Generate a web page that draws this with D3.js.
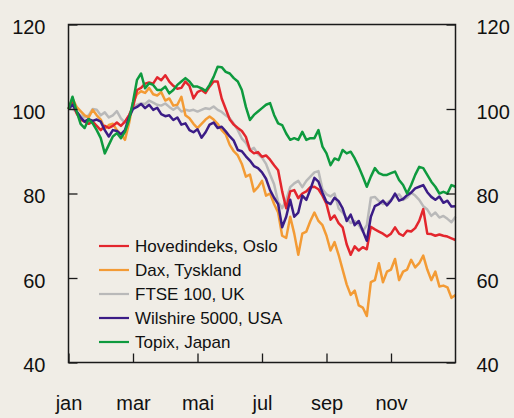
<!DOCTYPE html>
<html><head><meta charset="utf-8">
<script src="https://cdn.jsdelivr.net/npm/d3@7"></script>
<style>
body{margin:0;background:#f0ede6;}
svg{display:block;font-family:"Liberation Sans",Arial,sans-serif;}
</style>
</head><body>
<svg id="chart" width="514" height="418"></svg>
<script>
// ---- data ----
const monthLabels = ["jan", "mar", "mai", "jul", "sep", "nov"];
const monthTicks = [0, 2, 4, 6, 8, 10];
const yTicks = [40, 60, 80, 100, 120];
const seriesNames = ["Hovedindeks, Oslo", "Dax, Tyskland", "FTSE 100, UK", "Wilshire 5000, USA", "Topix, Japan"];
const seriesColors = ["#e3262d", "#f39b35", "#b9b9b9", "#3b1c86", "#0e9a3e"];
const stepMonths = 0.125; // sample spacing (months)

const hovedindeks = [
  100, 101.5, 99, 97.5, 97, 96.5, 97, 96, 95, 96, 95.5, 96, 96.8, 96, 97, 98.5,
  100.5, 104.5, 105, 106, 106.3, 106, 107.5, 106.8, 108, 106.5, 105.5, 104.8, 105, 106.5, 105.5, 102.5,
  104, 104.5, 103.8, 105.3, 106.5, 106.5, 102.5, 100, 97.5, 96.3, 95.5, 94.8, 93.4, 90.3, 89.5, 89.8,
  88.7, 89, 88, 86.7, 85.5, 80.5, 76.5, 80.5, 80.8, 78.9, 80, 80.5, 81.5, 81.6, 81, 79.5,
  77.5, 73.8, 74.8, 73, 72, 68, 65.5, 67.5, 66.5, 67.3, 66.8, 72.1, 71.5, 71, 70.5, 69.8,
  70.5, 72, 70.5, 70, 71.2, 71, 71.8, 73.5, 76.3, 70.5, 70.4, 70, 70.3, 70, 69.8, 69.4, 69
];
const dax = [
  100, 102.5, 100.5, 99.5, 98.5, 98, 99.8, 98.5, 97.5, 95.3, 96.2, 96.5, 95, 94, 92.7, 96.5,
  101.5, 103.5, 104.2, 103.8, 105, 103.5, 103.2, 104, 102, 102.5, 100.8, 101, 102.9, 98.5, 97.8, 96.5,
  95.5, 96.5, 97.5, 98.2, 97.5, 96.5, 95, 94, 91.5, 90, 89, 87, 84, 84.5, 80.5, 81.5,
  83, 79.5, 80, 77.5, 75.5, 70, 69.5, 74.5, 70.5, 65.5, 70.5, 71, 73.5, 75.5, 73.5, 72.5,
  70, 66.5, 68.5, 65.5, 62, 58.5, 56, 57, 53.5, 53, 51, 59, 59.5, 63.5, 59, 61.5,
  62, 64.5, 59.5, 61.5, 62, 64.3, 62.5, 63.5, 65.3, 62, 59.5, 61.5, 58, 58.2, 57.8, 55.3, 56
];
const ftse = [
  100, 100, 99.3, 98.5, 98, 98.5, 100, 99.8, 98.5, 99.2, 98, 98.5, 99.5, 97.8, 96.8, 98.5,
  100.3, 101, 101.3, 101.2, 102, 101.5, 101, 100.8, 101.3, 100.5, 99.8, 100.5, 99.4, 99.8, 99.6, 99.8,
  99.4, 99.8, 100.2, 100, 100.6, 99.8, 99.3, 98.5, 97.8, 96.5, 95, 93, 92, 90.3, 90.8, 89.3,
  88.5, 87, 84.5, 82.2, 78, 76.5, 78.5, 81.5, 82.4, 83, 81.5, 83, 84, 85, 85.3, 81,
  79.8, 79.3, 80, 76.5, 75.5, 74.2, 73, 73.5, 72.5, 71, 72.5, 79, 79.2, 78.2, 77.5, 77.8,
  78.5, 79.4, 79.8, 78.5, 79, 80.2, 79.5, 78.5, 77, 76.2, 74.7, 75.5, 74.3, 74.7, 74, 73.2, 74.5
];
const wilshire = [
  100, 101, 99.5, 98, 97, 97.6, 97.2, 97.5, 97, 95, 93.5, 95, 94.8, 94, 95, 98,
  100, 100.5, 101.2, 100.2, 101, 99.8, 100.3, 98.8, 98.3, 98.5, 97.4, 98, 96.3, 96.6, 95, 94.5,
  95.2, 93.2, 94.5, 96.3, 96.8, 95.5, 95.8, 94.7, 93.5, 92.5, 90.3, 90, 88.8, 87.8, 86.5, 86,
  85, 83.5, 80.8, 79, 77.5, 72, 74.5, 78.5, 74.5, 75.5, 79.5, 78.5, 81, 83.7, 82.8, 80.2,
  78, 77.5, 79, 78.2, 76.5, 73.5, 75, 72.5, 73.5, 71.2, 68.8, 74.5, 77, 77.5, 78.3, 77.2,
  78.3, 80, 78.3, 78.7, 79.6, 80.2, 81.2, 81.6, 82, 80.3, 79.2, 78.5, 79.3, 77.8, 78.3, 76.9, 77
];
const topix = [
  100, 102.9, 99.5, 96.5, 95.5, 97.6, 96.6, 95, 93.1, 89.5, 91.5, 93.5, 94.3, 93.1, 94.6, 97.4,
  101.7, 106.9, 108.4, 104.9, 106.1, 105.7, 104.5, 104.5, 105.3, 103.7, 104.5, 105.7, 106.5, 107.3, 106.5, 105.3,
  105.3, 104.9, 104.3, 105.7, 107.6, 110, 109.9, 108.8, 108.4, 107.3, 106.5, 104.5, 100.5, 97.4, 98.6, 99.4,
  100.2, 101, 101.4, 98.6, 96.6, 96.2, 94.2, 92.7, 93.1, 92.7, 94.6, 92.7, 93.1, 93.1, 95, 91.1,
  89.5, 86.7, 88.3, 87.9, 90.3, 89.5, 89.9, 88.3, 86.3, 84, 81.6, 84, 86, 84.8, 84.4, 84.4,
  84.8, 85.2, 83.2, 82, 80, 82, 84.4, 86.3, 86, 84.4, 82.8, 81.6, 80, 80.4, 80, 82, 81.6
];
const seriesValues = [hovedindeks, dax, ftse, wilshire, topix];
const drawOrder = [2, 1, 0, 3, 4];

// ---- layout ----
const L = 68.5, R = 455.5, T = 24.5, B = 362.5;
const svg = d3.select("#chart");
const x = d3.scaleLinear().domain([0, 12]).range([L, R]);
const y = d3.scaleLinear().domain([40, 120]).range([B, T]);

svg.append("rect").attr("width", 514).attr("height", 418).attr("fill", "#f0ede6");

// lines
const line = d3.line().x((d, i) => x(i * stepMonths)).y(d => y(d));
const g = svg.append("g");
drawOrder.forEach(k => {
  g.append("path").datum(seriesValues[k])
    .attr("d", line).attr("fill", "none")
    .attr("stroke", seriesColors[k]).attr("stroke-width", 2.5)
    .attr("stroke-linejoin", "round");
});

// axes
const axisColor = "#1a1a1a";
const styleAxis = sel => {
  sel.select(".domain").remove();
  sel.selectAll(".tick line").attr("stroke", axisColor).attr("stroke-width", 1.3);
  sel.selectAll(".tick text").attr("fill", "#111").style("font-size", "20px")
     .style("font-family", '"Liberation Sans", Arial, sans-serif');
};
svg.append("g").attr("transform", `translate(${L},0)`)
  .call(d3.axisLeft(y).tickValues(yTicks).tickSize(-9).tickPadding(23))
  .call(styleAxis).selectAll(".tick text").attr("dy", "0.45em");
svg.append("g").attr("transform", `translate(${R},0)`)
  .call(d3.axisRight(y).tickValues(yTicks).tickSize(-9).tickPadding(21))
  .call(styleAxis).selectAll(".tick text").attr("dy", "0.45em");
svg.append("g").attr("transform", `translate(0,${B})`)
  .call(d3.axisBottom(x).tickValues(monthTicks).tickSize(-9).tickFormat((d, i) => monthLabels[i]))
  .call(styleAxis).selectAll(".tick text").attr("y", 47.5).attr("dy", null);

// frame
svg.append("rect").attr("x", L).attr("y", T).attr("width", R - L).attr("height", B - T)
  .attr("fill", "none").attr("stroke", axisColor).attr("stroke-width", 1.5);

// legend
const lg = svg.append("g");
seriesNames.forEach((name, i) => {
  const yy = 246 + i * 24;
  lg.append("line").attr("x1", 99).attr("x2", 129).attr("y1", yy).attr("y2", yy)
    .attr("stroke", seriesColors[i]).attr("stroke-width", 2.2);
  lg.append("text").attr("x", 135).attr("y", yy + 6).text(name)
    .attr("fill", "#111").style("font-size", "17px");
});
</script>
</body></html>
